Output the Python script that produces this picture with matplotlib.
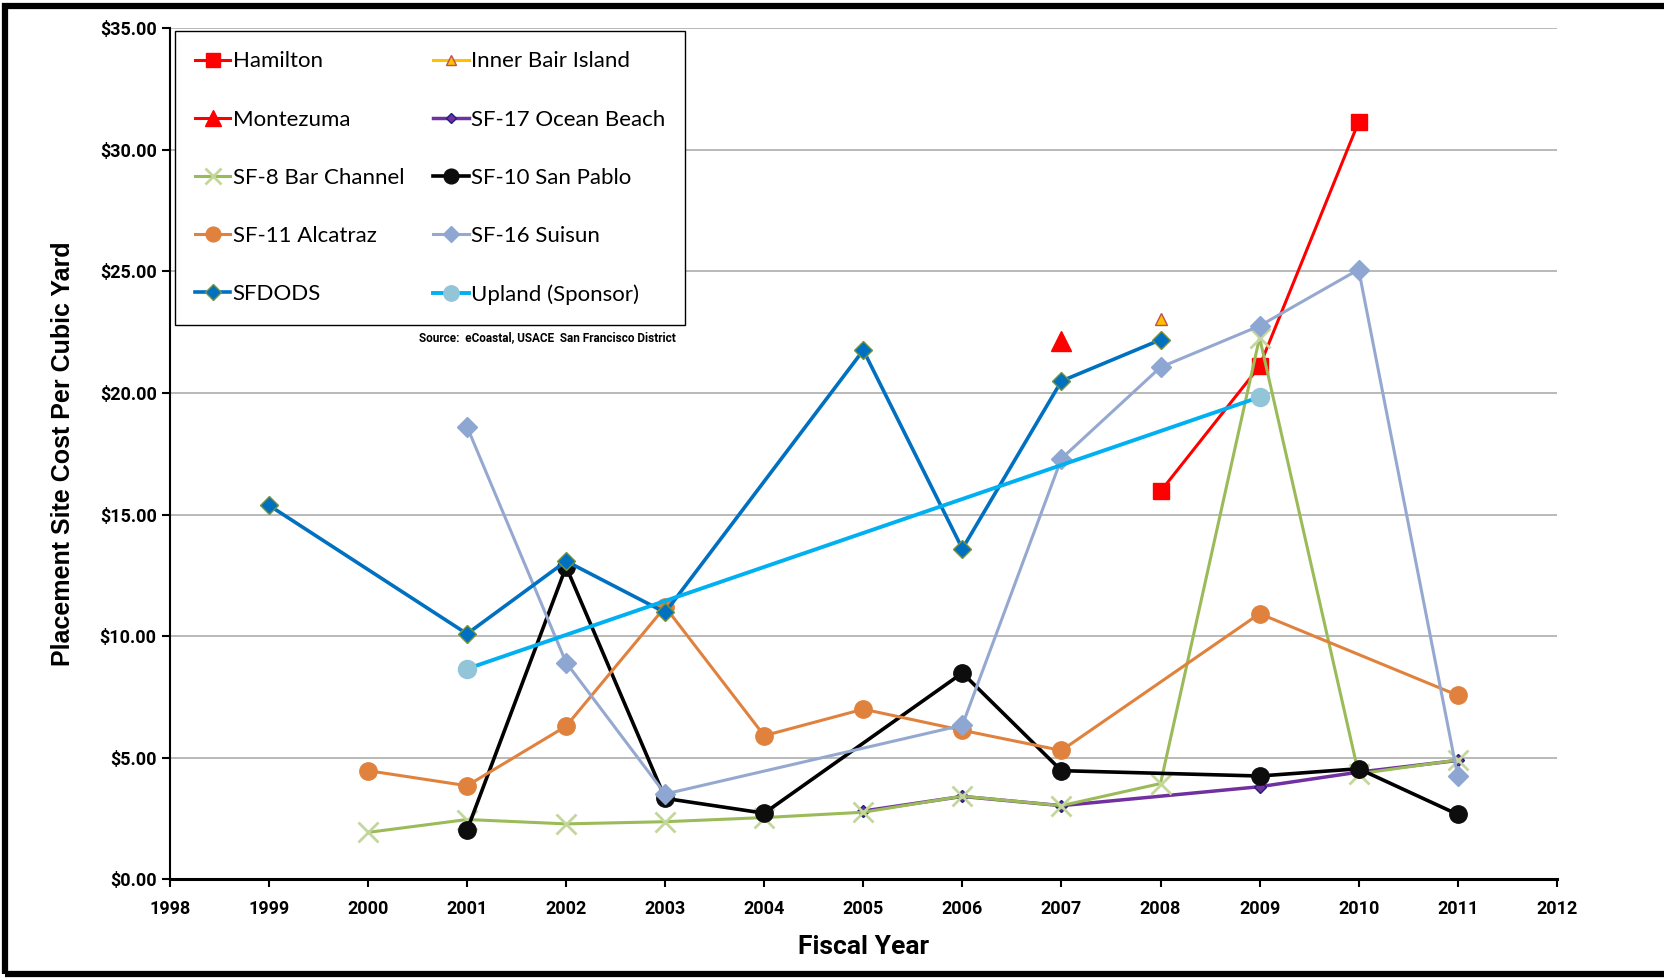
import matplotlib
matplotlib.use("Agg")
import matplotlib.pyplot as plt
from matplotlib.patches import Rectangle

# data (fiscal year, $ per cubic yard)
hamilton_yr = [2008, 2009, 2010]
hamilton = [15.95, 21.1, 31.15]

montezuma_yr = [2007]
montezuma = [22.15]

bair_yr = [2008]
bair = [23.05]

sf17_yr = [2005, 2006, 2007, 2009, 2010, 2011]
sf17 = [2.80, 3.40, 3.02, 3.80, 4.40, 4.88]

sf8_yr = [2000, 2001, 2002, 2003, 2004, 2005, 2006, 2007, 2008, 2009, 2010, 2011]
sf8 = [1.92, 2.45, 2.27, 2.36, 2.53, 2.75, 3.41, 3.02, 3.93, 22.28, 4.33, 4.90]

sf10_yr = [2001, 2002, 2003, 2004, 2006, 2007, 2009, 2010, 2011]
sf10 = [2.01, 12.85, 3.32, 2.71, 8.48, 4.46, 4.24, 4.54, 2.66]

sf11_yr = [2000, 2001, 2002, 2003, 2004, 2005, 2006, 2007, 2009, 2011]
sf11 = [4.46, 3.84, 6.29, 11.2, 5.90, 6.99, 6.12, 5.29, 10.92, 7.56]

sf16_yr = [2001, 2002, 2003, 2006, 2007, 2008, 2009, 2010, 2011]
sf16 = [18.61, 8.91, 3.50, 6.33, 17.3, 21.06, 22.76, 25.08, 4.24]

sfdods_yr = [1999, 2001, 2002, 2003, 2005, 2006, 2007, 2008]
sfdods = [15.38, 10.09, 13.08, 10.97, 21.76, 13.59, 20.49, 22.19]

upland_yr = [2001, 2009]
upland = [8.65, 19.83]

year_ticks = list(range(1998, 2013))
cost_ticks = [0, 5, 10, 15, 20, 25, 30, 35]

narrow = ['Roboto', 'DejaVu Sans']

fig = plt.figure(figsize=(16.65, 9.8), dpi=100)
ax = fig.add_axes([0.102, 0.103, 0.833, 0.868])

h = {}
h['Hamilton'], = ax.plot(hamilton_yr, hamilton, color='#FF0000', lw=2.2, marker='s', ms=12,
                         mfc='#FF0000', mec='#FF0000', label='Hamilton')
h['Inner Bair Island'], = ax.plot(bair_yr, bair, color='#FFC000', lw=2.2, marker='^', ms=9,
                                  mfc='#FFC000', mec='#C0504D', mew=1, label='Inner Bair Island')
h['Montezuma'], = ax.plot(montezuma_yr, montezuma, color='#FF0000', lw=2.2, marker='^', ms=14,
                          mfc='#FF0000', mec='#FF0000', label='Montezuma')
h['SF-17 Ocean Beach'], = ax.plot(sf17_yr, sf17, color='#7030A0', lw=2.5, marker='D', ms=6,
                                  mfc='#7030A0', mec='#1F1F7A', mew=1, label='SF-17 Ocean Beach')
h['SF-8 Bar Channel'], = ax.plot(sf8_yr, sf8, color='#9BBB59', lw=2.2, marker='x', ms=14, mew=2,
                                 mec='#C3D69B', label='SF-8 Bar Channel')
h['SF-10 San Pablo'], = ax.plot(sf10_yr, sf10, color='#000000', lw=2.6, marker='o', ms=12.5,
                                mfc='#0D0D0D', mec='#0D0D0D', label='SF-10 San Pablo')
h['SF-11 Alcatraz'], = ax.plot(sf11_yr, sf11, color='#E0823D', lw=2.2, marker='o', ms=12.5,
                               mfc='#E0823D', mec='#E0823D', label='SF-11 Alcatraz')
h['SF-16 Suisun'], = ax.plot(sf16_yr, sf16, color='#95A9D0', lw=2.2, marker='D', ms=10,
                             mfc='#8EA7D2', mec='#8EA7D2', label='SF-16 Suisun')
h['SFDODS'], = ax.plot(sfdods_yr, sfdods, color='#0070C0', lw=2.6, marker='D', ms=9,
                       mfc='#0070C0', mec='#77933C', mew=1, label='SFDODS')
h['Upland (Sponsor)'], = ax.plot(upland_yr, upland, color='#00B0F0', lw=2.8, marker='o', ms=13,
                                 mfc='#92C5D8', mec='#92C5D8', label='Upland (Sponsor)')

ax.set_xlim(1998, 2012)
ax.set_ylim(0, 35)
ax.set_xticks(year_ticks)
ax.set_yticks(cost_ticks)
ax.set_xticklabels([str(y) for y in year_ticks])
ax.set_yticklabels(['$%.2f' % c for c in cost_ticks])
for lab in ax.get_xticklabels() + ax.get_yticklabels():
    lab.set_family(narrow)
    lab.set_fontweight('bold')
    lab.set_fontsize(13)

ax.yaxis.grid(True, color='#A6A6A6', lw=1.1)
ax.set_axisbelow(True)
ax.spines['top'].set_visible(False)
ax.spines['right'].set_visible(False)
ax.spines['left'].set_linewidth(1.5)
ax.spines['bottom'].set_linewidth(2.2)
ax.tick_params(axis='both', direction='out', length=6, width=1.5, color='black')
ax.tick_params(axis='x', pad=9)

ax.set_xlabel('Fiscal Year', family=narrow, fontweight='bold', fontsize=19, labelpad=12)
ax.set_ylabel('Placement Site Cost Per Cubic Yard', family=['Liberation Sans', 'DejaVu Sans'],
              fontweight='bold', fontsize=18, labelpad=18)

# legend reads row by row in the reference, so fill columns in that order
col1 = ['Hamilton', 'Montezuma', 'SF-8 Bar Channel', 'SF-11 Alcatraz', 'SFDODS']
col2 = ['Inner Bair Island', 'SF-17 Ocean Beach', 'SF-10 San Pablo', 'SF-16 Suisun', 'Upland (Sponsor)']
order = col1 + col2
leg = fig.legend([h[k] for k in order], order, loc='upper left',
                 bbox_to_anchor=(0.105, 0.968), borderaxespad=0, ncol=2,
                 prop={'family': ['Lato', 'DejaVu Sans'], 'size': 16},
                 fancybox=False, framealpha=1, edgecolor='black',
                 handlelength=1.6, handletextpad=0.1, labelspacing=1.72,
                 columnspacing=1.3, borderpad=0.9, markerscale=0.85)
leg.get_frame().set_linewidth(1.0)

fig.text(0.406, 0.655, 'Source:  eCoastal, USACE  San Francisco District',
         family=narrow, fontweight='bold', fontsize=8.5, ha='right', va='center')

# outer frame
fig.patches.append(Rectangle((0.003, 0.006), 1.2, 0.988, transform=fig.transFigure,
                             fill=False, edgecolor='black', lw=4.5))

fig.savefig('out.png', dpi=100)
